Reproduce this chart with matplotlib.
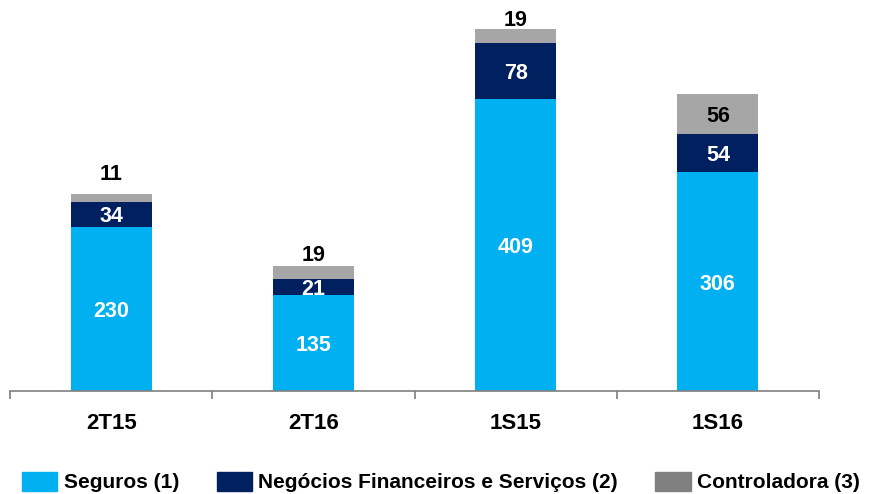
import matplotlib.pyplot as plt
import matplotlib.patches as mpatches
import numpy as np

plt.rcParams['font.family'] = ['Liberation Sans', 'DejaVu Sans']
plt.rcParams['font.weight'] = 'bold'

periodos = ['2T15', '2T16', '1S15', '1S16']
seguros = [230, 135, 409, 306]
negocios = [34, 21, 78, 54]
controladora = [11, 19, 19, 56]

cor_seg = '#00b0f0'
cor_neg = '#002060'
cor_ctl = '#a6a6a6'

fig = plt.figure(figsize=(8.72, 4.94), dpi=100)
ax = fig.add_axes([10 / 872, 1 - 391 / 494, 809 / 872, 391 / 494])

x = np.arange(len(periodos))
seg = np.array(seguros)
neg = np.array(negocios)
ctl = np.array(controladora)

ax.bar(x, seg, width=0.4, color=cor_seg)
ax.bar(x, neg, width=0.4, bottom=seg, color=cor_neg)
ax.bar(x, ctl, width=0.4, bottom=seg + neg, color=cor_ctl)

fs = 15.5
for i in range(len(x)):
    ax.text(x[i], seg[i] / 2, str(seg[i]), ha='center', va='center_baseline',
            color='white', fontsize=fs, fontweight='bold')
    ax.text(x[i], seg[i] + neg[i] / 2, str(neg[i]), ha='center', va='center_baseline',
            color='white', fontsize=fs, fontweight='bold')

# controladora: acima da barra, exceto quando o segmento e grande
total = seg + neg + ctl
desloc = [22, 13, 11, None]
for i in range(len(x)):
    if desloc[i] is None:
        ax.text(x[i], total[i] - ctl[i] / 2, str(ctl[i]), ha='center', va='center_baseline',
                color='black', fontsize=fs, fontweight='bold')
    else:
        ax.annotate(str(ctl[i]), (x[i], total[i]), xytext=(0, desloc[i] * 0.72),
                    textcoords='offset points', ha='center', va='center_baseline',
                    color='black', fontsize=fs, fontweight='bold')

ax.set_xlim(-0.5, 3.5)
ax.set_ylim(0, 547)
ax.set_yticks([])
for s in ['top', 'right', 'left']:
    ax.spines[s].set_visible(False)
ax.spines['bottom'].set_color('#7f7f7f')
ax.spines['bottom'].set_linewidth(1.2)
ax.set_xticks(x)
ax.set_xticklabels(periodos, fontsize=16, fontweight='bold')
ax.tick_params(axis='x', which='major', length=0, pad=16)
ax.set_xticks(np.arange(-0.5, 4, 1), minor=True)
ax.tick_params(axis='x', which='minor', length=6, color='#7f7f7f', width=1.2)

handles = [mpatches.Patch(color=cor_seg), mpatches.Patch(color=cor_neg),
           mpatches.Patch(color='#808080')]
nomes = ['Seguros (1)', 'Negócios Financeiros e Serviços (2)', 'Controladora (3)']
fig.legend(handles, nomes, loc='center', bbox_to_anchor=(441 / 872, 12 / 494), ncol=3,
           frameon=False, prop={'size': 15, 'weight': 'bold'},
           handlelength=1.7, handleheight=1.05, handletextpad=0.3,
           columnspacing=1.8, borderaxespad=0, borderpad=0)

fig.savefig('out.png', dpi=100)
